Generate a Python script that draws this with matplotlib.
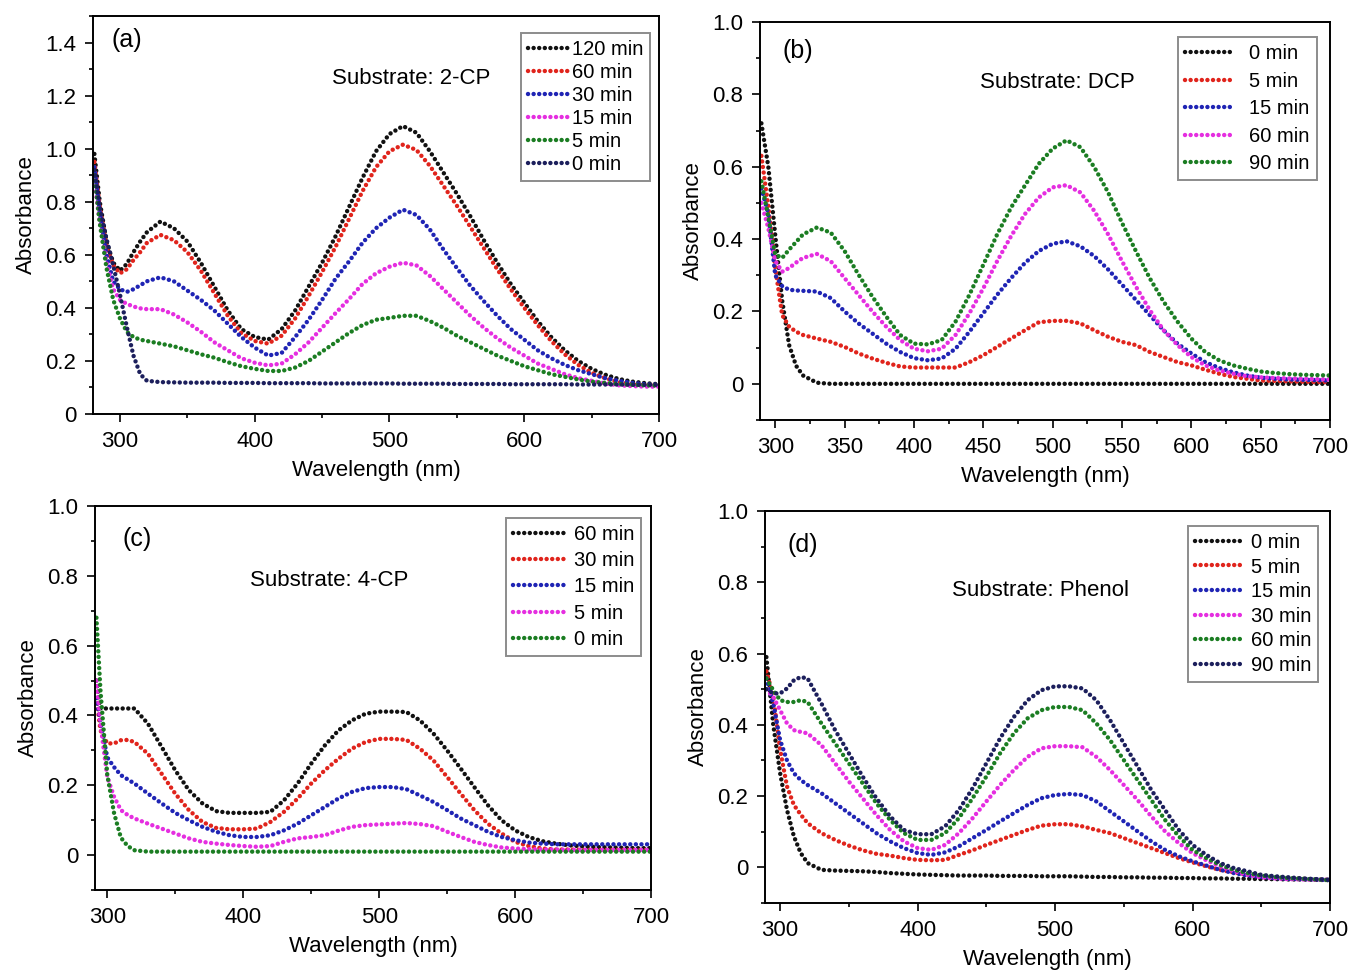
import numpy as np
import matplotlib
matplotlib.use("Agg")
import matplotlib.pyplot as plt
from matplotlib.ticker import MultipleLocator, FuncFormatter

plt.rcParams['font.family'] = ['Liberation Sans', 'DejaVu Sans']

# wavelength grids (nm): dense start near the UV edge, then every 10 nm
wl_a = np.concatenate([[281, 285, 290, 295, 300, 305, 310, 315], np.arange(320, 701, 10)])
wl_b = np.concatenate([[290, 295, 300, 305, 310, 315], np.arange(320, 701, 10)])
wl_c = np.concatenate([[292, 295, 300, 305, 310, 315], np.arange(320, 701, 10)])
wl_d = np.concatenate([[290, 295, 300, 305, 310, 315], np.arange(320, 701, 10)])

# (a) 2-CP
a_labels = ["120 min", "60 min", "30 min", "15 min", "5 min", "0 min"]
a_120 = [0.98, 0.80, 0.65, 0.57, 0.54, 0.565, 0.61, 0.65,
         0.685, 0.725, 0.70, 0.65, 0.57, 0.48, 0.39, 0.32, 0.29, 0.28,
         0.32, 0.39, 0.48, 0.57, 0.67, 0.78, 0.89, 0.99, 1.055, 1.085,
         1.06, 0.99, 0.91, 0.83, 0.745, 0.655, 0.57, 0.49, 0.42, 0.35,
         0.29, 0.24, 0.20, 0.17, 0.148, 0.132, 0.122, 0.116, 0.112]
a_60 = [0.95, 0.78, 0.63, 0.56, 0.53, 0.545, 0.58, 0.61,
        0.645, 0.675, 0.655, 0.61, 0.54, 0.455, 0.37, 0.305, 0.275, 0.265,
        0.295, 0.36, 0.445, 0.535, 0.63, 0.735, 0.84, 0.93, 0.99, 1.015,
        0.995, 0.935, 0.86, 0.785, 0.705, 0.625, 0.545, 0.47, 0.40, 0.335,
        0.275, 0.225, 0.185, 0.155, 0.135, 0.12, 0.112, 0.108, 0.106]
a_30 = [0.93, 0.76, 0.60, 0.50, 0.47, 0.46, 0.47, 0.485,
        0.50, 0.515, 0.50, 0.465, 0.43, 0.39, 0.34, 0.29, 0.25, 0.22,
        0.23, 0.29, 0.355, 0.43, 0.51, 0.575, 0.645, 0.70, 0.74, 0.77,
        0.75, 0.695, 0.62, 0.55, 0.483, 0.425, 0.37, 0.32, 0.28, 0.24,
        0.21, 0.185, 0.165, 0.15, 0.135, 0.125, 0.117, 0.112, 0.11]
a_15 = [0.88, 0.72, 0.57, 0.47, 0.43, 0.415, 0.405, 0.398,
        0.395, 0.395, 0.375, 0.345, 0.31, 0.27, 0.24, 0.21, 0.193, 0.183,
        0.19, 0.225, 0.27, 0.325, 0.38, 0.433, 0.49, 0.53, 0.555, 0.57,
        0.56, 0.52, 0.47, 0.42, 0.37, 0.325, 0.285, 0.25, 0.22, 0.19,
        0.17, 0.15, 0.135, 0.125, 0.115, 0.108, 0.105, 0.103, 0.103]
a_5 = [0.90, 0.72, 0.55, 0.43, 0.36, 0.31, 0.29, 0.28,
       0.275, 0.265, 0.255, 0.24, 0.225, 0.212, 0.195, 0.18, 0.17, 0.162,
       0.162, 0.175, 0.20, 0.235, 0.27, 0.305, 0.335, 0.355, 0.362, 0.37,
       0.37, 0.35, 0.325, 0.295, 0.27, 0.245, 0.22, 0.20, 0.18, 0.165,
       0.15, 0.14, 0.13, 0.122, 0.117, 0.113, 0.11, 0.108, 0.107]
a_0 = [0.92, 0.78, 0.66, 0.56, 0.45, 0.33, 0.22, 0.15,
       0.125, 0.12, 0.119, 0.118, 0.118, 0.118, 0.117, 0.117, 0.117, 0.116,
       0.116, 0.116, 0.116, 0.115, 0.115, 0.115, 0.115, 0.115, 0.115, 0.114,
       0.114, 0.114, 0.114, 0.113, 0.113, 0.113, 0.113, 0.112, 0.112, 0.112,
       0.112, 0.112, 0.111, 0.111, 0.111, 0.111, 0.11, 0.11, 0.11]

# (b) DCP
b_labels = ["0 min", "5 min", "15 min", "60 min", "90 min"]
b_0 = [0.72, 0.60, 0.41, 0.23, 0.107, 0.05,
       0.023, 0.003, 0.0, 0.0, 0.0, 0.0, 0.0, 0.0, 0.0, 0.0,
       0.0, 0.0, 0.0, 0.0, 0.0, 0.0, 0.0, 0.0, 0.0, 0.0,
       0.0, 0.0, 0.0, 0.0, 0.0, 0.0, 0.0, 0.0, 0.0, 0.0,
       0.0, 0.0, 0.0, 0.0, 0.0, 0.0, 0.0, 0.0, 0.0]
b_5 = [0.63, 0.49, 0.32, 0.19, 0.158, 0.144,
       0.135, 0.125, 0.116, 0.102, 0.084, 0.07, 0.058, 0.048, 0.045, 0.045,
       0.045, 0.045, 0.06, 0.079, 0.102, 0.125, 0.148, 0.17, 0.174, 0.174,
       0.167, 0.148, 0.13, 0.116, 0.107, 0.088, 0.074, 0.06, 0.051, 0.039,
       0.028, 0.019, 0.014, 0.009, 0.008, 0.007, 0.006, 0.005, 0.005]
b_15 = [0.54, 0.47, 0.30, 0.27, 0.26, 0.258,
        0.257, 0.255, 0.237, 0.20, 0.167, 0.139, 0.111, 0.088, 0.071, 0.065,
        0.07, 0.097, 0.144, 0.195, 0.246, 0.292, 0.334, 0.367, 0.387, 0.394,
        0.38, 0.353, 0.316, 0.274, 0.232, 0.19, 0.148, 0.111, 0.084, 0.06,
        0.044, 0.032, 0.023, 0.017, 0.014, 0.012, 0.011, 0.01, 0.009]
b_60 = [0.50, 0.43, 0.34, 0.31, 0.32, 0.335,
        0.348, 0.359, 0.339, 0.292, 0.246, 0.20, 0.158, 0.121, 0.097, 0.09,
        0.097, 0.135, 0.195, 0.264, 0.339, 0.408, 0.469, 0.515, 0.543, 0.549,
        0.529, 0.478, 0.413, 0.339, 0.269, 0.204, 0.148, 0.107, 0.074, 0.051,
        0.037, 0.028, 0.021, 0.018, 0.016, 0.015, 0.014, 0.013, 0.012]
b_90 = [0.56, 0.46, 0.357, 0.348, 0.371, 0.392,
        0.413, 0.432, 0.418, 0.367, 0.302, 0.241, 0.186, 0.135, 0.111, 0.109,
        0.121, 0.172, 0.246, 0.329, 0.413, 0.487, 0.548, 0.608, 0.65, 0.673,
        0.654, 0.599, 0.529, 0.445, 0.367, 0.292, 0.227, 0.172, 0.125, 0.088,
        0.065, 0.051, 0.042, 0.034, 0.03, 0.027, 0.025, 0.024, 0.023]

# (c) 4-CP
c_labels = ["60 min", "30 min", "15 min", "5 min", "0 min"]
c_60 = [0.50, 0.42, 0.42, 0.42, 0.42, 0.42,
        0.42, 0.376, 0.31, 0.243, 0.186, 0.148, 0.126, 0.121, 0.121, 0.121,
        0.124, 0.157, 0.205, 0.262, 0.314, 0.357, 0.386, 0.405, 0.411, 0.411,
        0.41, 0.386, 0.348, 0.30, 0.248, 0.195, 0.143, 0.10, 0.071, 0.052,
        0.04, 0.033, 0.028, 0.025, 0.023, 0.022, 0.021, 0.02, 0.02]
c_30 = [0.45, 0.357, 0.32, 0.32, 0.329, 0.33,
        0.324, 0.29, 0.233, 0.176, 0.129, 0.095, 0.078, 0.074, 0.074, 0.076,
        0.095, 0.124, 0.162, 0.205, 0.243, 0.276, 0.305, 0.324, 0.333, 0.333,
        0.33, 0.305, 0.271, 0.224, 0.176, 0.129, 0.09, 0.062, 0.038, 0.026,
        0.019, 0.016, 0.016, 0.015, 0.015, 0.015, 0.015, 0.015, 0.015]
c_15 = [0.45, 0.38, 0.28, 0.252, 0.229, 0.217,
        0.205, 0.176, 0.148, 0.121, 0.10, 0.081, 0.067, 0.057, 0.052, 0.052,
        0.057, 0.071, 0.09, 0.114, 0.138, 0.162, 0.181, 0.192, 0.195, 0.195,
        0.189, 0.171, 0.152, 0.129, 0.105, 0.086, 0.067, 0.052, 0.043, 0.036,
        0.033, 0.031, 0.031, 0.031, 0.031, 0.031, 0.031, 0.031, 0.031]
c_5 = [0.50, 0.376, 0.224, 0.167, 0.129, 0.115,
       0.105, 0.09, 0.076, 0.062, 0.048, 0.038, 0.033, 0.029, 0.026, 0.024,
       0.026, 0.038, 0.048, 0.052, 0.057, 0.07, 0.081, 0.086, 0.088, 0.09,
       0.092, 0.089, 0.083, 0.067, 0.052, 0.038, 0.029, 0.022, 0.019, 0.017,
       0.016, 0.016, 0.015, 0.015, 0.015, 0.015, 0.015, 0.015, 0.015]
c_0 = [0.68, 0.47, 0.23, 0.12, 0.05, 0.026,
       0.014, 0.01, 0.01, 0.01, 0.01, 0.01, 0.01, 0.01, 0.01, 0.01,
       0.01, 0.01, 0.01, 0.01, 0.01, 0.01, 0.01, 0.01, 0.01, 0.01,
       0.01, 0.01, 0.01, 0.01, 0.01, 0.01, 0.01, 0.01, 0.01, 0.01,
       0.01, 0.01, 0.01, 0.01, 0.01, 0.01, 0.01, 0.01, 0.01]

# (d) Phenol
d_labels = ["0 min", "5 min", "15 min", "30 min", "60 min", "90 min"]
d_0 = [0.59, 0.40, 0.264, 0.161, 0.087, 0.04,
       0.012, -0.007, -0.009, -0.01, -0.011, -0.013, -0.016, -0.018, -0.02, -0.021,
       -0.022, -0.023, -0.023, -0.023, -0.024, -0.024, -0.024, -0.025, -0.025, -0.025,
       -0.026, -0.027, -0.027, -0.028, -0.028, -0.029, -0.029, -0.03, -0.03, -0.031,
       -0.031, -0.032, -0.032, -0.033, -0.033, -0.034, -0.034, -0.035, -0.036]
d_5 = [0.55, 0.48, 0.33, 0.227, 0.175, 0.148,
       0.124, 0.096, 0.077, 0.061, 0.048, 0.038, 0.033, 0.026, 0.021, 0.02,
       0.021, 0.035, 0.048, 0.063, 0.077, 0.091, 0.105, 0.117, 0.121, 0.121,
       0.115, 0.105, 0.096, 0.082, 0.068, 0.054, 0.04, 0.026, 0.014, 0.003,
       -0.007, -0.014, -0.021, -0.025, -0.028, -0.03, -0.032, -0.034, -0.035]
d_15 = [0.53, 0.46, 0.357, 0.30, 0.264, 0.245,
        0.231, 0.208, 0.18, 0.152, 0.124, 0.096, 0.073, 0.054, 0.04, 0.035,
        0.042, 0.059, 0.082, 0.105, 0.129, 0.152, 0.175, 0.194, 0.203, 0.206,
        0.203, 0.185, 0.157, 0.129, 0.101, 0.073, 0.049, 0.031, 0.017, 0.005,
        -0.007, -0.016, -0.023, -0.027, -0.03, -0.032, -0.033, -0.034, -0.035]
d_30 = [0.50, 0.478, 0.441, 0.404, 0.385, 0.38,
        0.376, 0.343, 0.292, 0.241, 0.194, 0.147, 0.105, 0.073, 0.054, 0.049,
        0.063, 0.096, 0.138, 0.185, 0.231, 0.273, 0.31, 0.334, 0.34, 0.34,
        0.337, 0.31, 0.273, 0.231, 0.189, 0.143, 0.101, 0.068, 0.04, 0.02,
        0.003, -0.011, -0.021, -0.028, -0.031, -0.033, -0.034, -0.035, -0.035]
d_60 = [0.53, 0.497, 0.469, 0.464, 0.464, 0.469,
        0.464, 0.404, 0.348, 0.292, 0.236, 0.18, 0.133, 0.096, 0.077, 0.077,
        0.096, 0.138, 0.194, 0.255, 0.32, 0.376, 0.418, 0.441, 0.45, 0.45,
        0.441, 0.404, 0.357, 0.301, 0.245, 0.189, 0.133, 0.087, 0.049, 0.026,
        0.007, -0.007, -0.016, -0.023, -0.027, -0.03, -0.032, -0.034, -0.036]
d_90 = [0.50, 0.488, 0.488, 0.502, 0.525, 0.534,
        0.53, 0.46, 0.385, 0.32, 0.255, 0.194, 0.143, 0.105, 0.093, 0.093,
        0.115, 0.161, 0.222, 0.292, 0.362, 0.422, 0.469, 0.497, 0.508, 0.508,
        0.502, 0.469, 0.413, 0.348, 0.283, 0.217, 0.161, 0.105, 0.063, 0.035,
        0.012, -0.002, -0.011, -0.021, -0.025, -0.028, -0.031, -0.033, -0.035]

BLACK = '#111111'
RED = '#e0241c'
BLUE = '#1f24b4'
MAGENTA = '#e52ee0'
GREEN = '#1b7d22'
NAVY = '#1c1f5c'


def dotted(ax, x, y, color, label):
    ax.plot(x, y, color=color, lw=3.2, linestyle=(0, (0.01, 1.25)),
            dash_capstyle='round', label=label)


def style_axes(ax, xlim, ylim, xmajor, xminor):
    ax.set_xlim(*xlim)
    ax.set_ylim(*ylim)
    ax.xaxis.set_major_locator(MultipleLocator(xmajor))
    ax.xaxis.set_minor_locator(MultipleLocator(xminor))
    ax.yaxis.set_major_locator(MultipleLocator(0.2))
    ax.yaxis.set_minor_locator(MultipleLocator(0.1))
    ax.yaxis.set_major_formatter(FuncFormatter(lambda v, p: '0' if abs(v) < 1e-9 else f'{v:.1f}'))
    ax.tick_params(which='both', direction='out', top=False, right=False,
                   labelsize=16, width=1.2)
    ax.tick_params(which='major', length=6, pad=6)
    ax.tick_params(which='minor', length=3)
    for s in ax.spines.values():
        s.set_linewidth(1.4)
    ax.set_xlabel('Wavelength (nm)', fontsize=16, labelpad=6)
    ax.set_ylabel('Absorbance', fontsize=16, labelpad=6)


def add_legend(ax, anchor, hlen, textpad, spacing):
    leg = ax.legend(loc='upper right', bbox_to_anchor=anchor, fontsize=14.5,
                    handlelength=hlen, handletextpad=textpad, labelspacing=spacing,
                    borderpad=0.35, borderaxespad=0, fancybox=False,
                    edgecolor='#8c8c8c', framealpha=1)
    leg.get_frame().set_linewidth(1.4)


fig = plt.figure(figsize=(13.54, 9.74), dpi=100)

# panel (a)
ax = fig.add_axes([0.0687, 0.5750, 0.4180, 0.4086])
for y, c, lab in zip([a_120, a_60, a_30, a_15, a_5, a_0],
                     [BLACK, RED, BLUE, MAGENTA, GREEN, NAVY], a_labels):
    dotted(ax, wl_a, y, c, lab)
style_axes(ax, (280, 700), (0, 1.5), 100, 50)
add_legend(ax, (0.984, 0.957), 2.1, 0.05, 0.2)
ax.text(0.06, 0.94, '(a)', transform=ax.transAxes, fontsize=18, ha='center', va='center')
ax.text(0.562, 0.842, 'Substrate: 2-CP', transform=ax.transAxes, fontsize=16,
        ha='center', va='center')

# panel (b)
ax = fig.add_axes([0.5613, 0.5688, 0.4210, 0.4086])
for y, c, lab in zip([b_0, b_5, b_15, b_60, b_90],
                     [BLACK, RED, BLUE, MAGENTA, GREEN], b_labels):
    dotted(ax, wl_b, y, c, lab)
style_axes(ax, (289, 700), (-0.1, 1.0), 50, 25)
add_legend(ax, (0.977, 0.962), 2.5, 0.7, 0.42)
ax.text(0.067, 0.927, '(b)', transform=ax.transAxes, fontsize=18, ha='center', va='center')
ax.text(0.521, 0.847, 'Substrate: DCP', transform=ax.transAxes, fontsize=16,
        ha='center', va='center')

# panel (c)
ax = fig.add_axes([0.0702, 0.0862, 0.4106, 0.3943])
for y, c, lab in zip([c_60, c_30, c_15, c_5, c_0],
                     [BLACK, RED, BLUE, MAGENTA, GREEN], c_labels):
    dotted(ax, wl_c, y, c, lab)
style_axes(ax, (291, 700), (-0.1, 1.0), 100, 50)
add_legend(ax, (0.982, 0.969), 2.5, 0.5, 0.36)
ax.text(0.076, 0.914, '(c)', transform=ax.transAxes, fontsize=18, ha='center', va='center')
ax.text(0.421, 0.805, 'Substrate: 4-CP', transform=ax.transAxes, fontsize=16,
        ha='center', va='center')

# panel (d)
ax = fig.add_axes([0.5650, 0.0729, 0.4173, 0.4025])
for y, c, lab in zip([d_0, d_5, d_15, d_30, d_60, d_90],
                     [BLACK, RED, BLUE, MAGENTA, GREEN, NAVY], d_labels):
    dotted(ax, wl_d, y, c, lab)
style_axes(ax, (289, 700), (-0.1, 1.0), 100, 50)
add_legend(ax, (0.979, 0.962), 2.4, 0.35, 0.28)
ax.text(0.067, 0.913, '(d)', transform=ax.transAxes, fontsize=18, ha='center', va='center')
ax.text(0.488, 0.798, 'Substrate: Phenol', transform=ax.transAxes, fontsize=16,
        ha='center', va='center')

fig.savefig('out.png', dpi=100, facecolor='white')
